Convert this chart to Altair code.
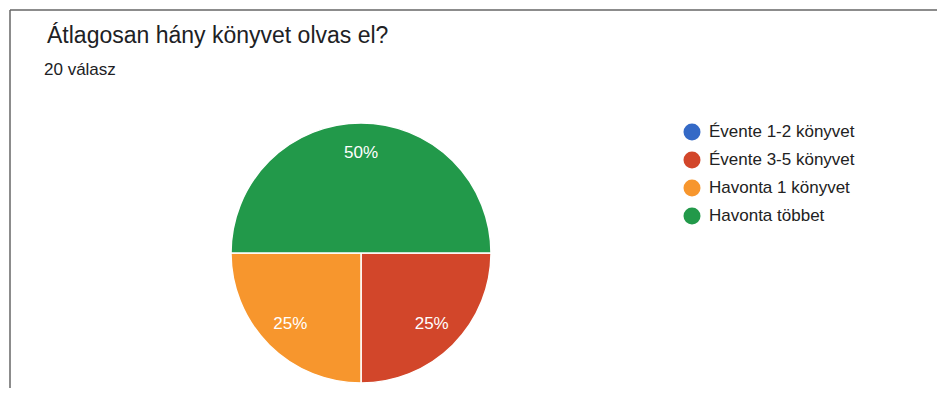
import math
import altair as alt
import pandas as pd

CATEGORIES = ["Évente 1-2 könyvet", "Évente 3-5 könyvet", "Havonta 1 könyvet", "Havonta többet"]
COUNTS = [0, 5, 5, 10]
COLORS = ["#3469c6", "#d2462a", "#f7962d", "#22994a"]
TITLE = "Átlagosan hány könyvet olvas el?"
SUBTITLE = "20 válasz"

FONT = "Liberation Sans"
CX, CY = 353, 245

df = pd.DataFrame({"cat": CATEGORIES, "n": COUNTS, "idx": list(range(len(CATEGORIES)))})

base = alt.Chart(df).encode(
    theta=alt.Theta("n:Q", stack=True,
                    scale=alt.Scale(range=[math.pi / 2, math.pi / 2 + 2 * math.pi])),
    order=alt.Order("idx:Q"),
)

pie = base.mark_arc(radius=130, stroke="white", strokeWidth=1.5).encode(
    x=alt.value(CX), y=alt.value(CY),
    color=alt.Color(
        "cat:N",
        scale=alt.Scale(domain=CATEGORIES, range=COLORS),
        legend=alt.Legend(
            title=None, orient="none", legendX=675.5, legendY=115.5,
            symbolType="circle", symbolSize=289, symbolStrokeWidth=0,
            labelFontSize=17, labelFont=FONT, labelColor="#222222",
            rowPadding=10, labelOffset=8.5, padding=0, labelLimit=300,
        ),
    ),
)

labels = base.transform_joinaggregate(total="sum(n)").transform_calculate(
    pct="format(datum.n / datum.total, '.0%')"
).transform_filter("datum.n > 0").mark_text(
    radius=100, fontSize=17, font=FONT, color="white", baseline="middle", align="center"
).encode(text="pct:N", x=alt.value(CX), y=alt.value(CY))

one = pd.DataFrame({"k": [0]})
title = alt.Chart(one).mark_text(
    text=TITLE, fontSize=23, font=FONT, color="#202124", align="left", baseline="alphabetic"
).encode(x=alt.value(39), y=alt.value(35))
subtitle = alt.Chart(one).mark_text(
    text=SUBTITLE, fontSize=17, font=FONT, color="#202124", align="left", baseline="alphabetic"
).encode(x=alt.value(36), y=alt.value(67))

top_rule = alt.Chart(one).mark_rule(color="#666666", strokeWidth=1.5).encode(
    x=alt.value(2), x2=alt.value(929), y=alt.value(2))
left_rule = alt.Chart(one).mark_rule(color="#666666", strokeWidth=1.5).encode(
    x=alt.value(2), y=alt.value(2), y2=alt.value(380))

chart = alt.layer(top_rule, left_rule, pie, labels, title, subtitle).properties(
    width=929, height=380, padding=0, autosize=alt.AutoSizeParams(type="none")
).configure_view(stroke=None)

chart.save("out.html", embed_options={"renderer": "svg", "actions": False})
